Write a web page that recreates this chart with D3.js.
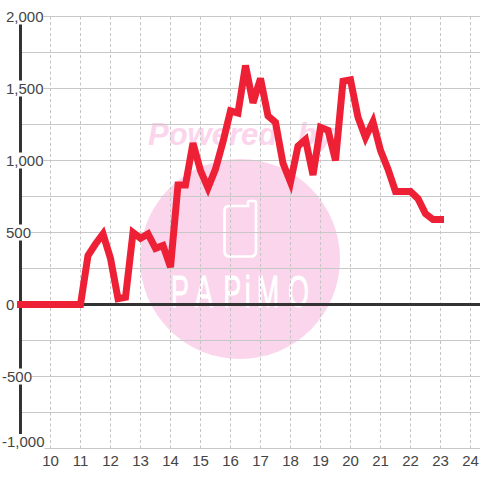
<!DOCTYPE html>
<html>
<head>
<meta charset="utf-8">
<script src="https://cdnjs.cloudflare.com/ajax/libs/d3/7.8.5/d3.min.js"></script>
<style>
  html, body { margin: 0; padding: 0; background: #fff; }
  svg { display: block; }
  text { font-family: "Liberation Sans", Arial, sans-serif; }
  .domain { display: none; }
</style>
</head>
<body>
<div id="chart"></div>
<script>
// values
var hours = [9, 9.25, 9.5, 9.75, 10, 10.25, 10.5, 10.75, 11, 11.25, 11.5, 11.75,
  12, 12.25, 12.5, 12.75, 13, 13.25, 13.5, 13.75, 14, 14.25, 14.5, 14.75,
  15, 15.25, 15.5, 15.75, 16, 16.25, 16.5, 16.75, 17, 17.25, 17.5, 17.75,
  18, 18.25, 18.5, 18.75, 19, 19.25, 19.5, 19.75, 20, 20.25, 20.5, 20.75,
  21, 21.25, 21.5, 21.75, 22, 22.25, 22.5, 22.75, 23];
var values = [0, 0, 0, 0, 0, 0, 0, 0, 0, 340, 420, 490,
  320, 40, 50, 500, 460, 490, 390, 410, 260, 830, 830, 1120,
  930, 810, 940, 1130, 1345, 1330, 1660, 1400, 1570, 1310, 1265, 980,
  850, 1100, 1145, 900, 1230, 1210, 1000, 1550, 1560, 1300, 1160, 1270,
  1070, 940, 785, 785, 785, 735, 630, 590, 590];
var xTicks = [10, 11, 12, 13, 14, 15, 16, 17, 18, 19, 20, 21, 22, 23, 24];
var yTicks = [-1000, -500, 0, 500, 1000, 1500, 2000];
var yGrid = [-1000, -750, -500, -250, 0, 250, 500, 750, 1000, 1250, 1500, 1750, 2000];

var svgWidth = 480;
var svgHeight = 480;

var svg = d3.select("#chart")
  .append("svg")
  .attr("width", svgWidth)
  .attr("height", svgHeight);

var xScale = d3.scaleLinear().domain([10, 24]).range([50.5, 470.5]);
var yScale = d3.scaleLinear().domain([-1000, 2000]).range([448.5, 16.5]);

// watermark
svg.append("circle")
  .attr("cx", 240).attr("cy", 259).attr("r", 100)
  .attr("fill", "#fbd5ec");

svg.append("text")
  .attr("x", 148).attr("y", 144.500)
  .attr("font-size", 31)
  .attr("font-weight", "bold")
  .attr("font-style", "italic")
  .attr("word-spacing", 12)
  .attr("fill", "#fbd5ec")
  .text("Powered by");

svg.append("path")
  .attr("d", "M229 206H248V202.500Q248 201 250 201H254Q256 201 256 203V251Q256 256.500 251 256.500H229.500Q224.500 256.500 224.500 251V211Q224.500 206 229 206Z")
  .attr("fill", "none")
  .attr("stroke", "#fff")
  .attr("stroke-width", 2.7);

svg.append("g")
  .attr("transform", "translate(0,307) scale(0.6,1)")
  .append("text")
  .attr("x", "285 325 372 408 428 480")
  .attr("font-size", 45)
  .attr("fill", "#fff")
  .attr("stroke", "#fff")
  .attr("stroke-width", 0.8)
  .text("PAPiMO");

// grid, vertical dashed and horizontal solid
var xGridAxis = d3.axisBottom(xScale)
  .tickValues(xTicks)
  .tickSize(432)
  .tickFormat("")
  .offset(0);

svg.append("g")
  .attr("transform", "translate(0,16.5)")
  .call(xGridAxis)
  .selectAll("line")
  .attr("stroke", "#c4c4c4")
  .attr("stroke-dasharray", "3,2.5");

var yGridAxis = d3.axisRight(yScale)
  .tickValues(yGrid)
  .tickSize(460)
  .tickFormat("")
  .offset(0);

svg.append("g")
  .attr("transform", "translate(20,0)")
  .call(yGridAxis)
  .selectAll("line")
  .attr("stroke", "#c8c8c8")
  .attr("stroke-width", 1);

// axis lines
svg.append("line")
  .attr("x1", 20.5).attr("x2", 20.5)
  .attr("y1", yScale(2000)).attr("y2", yScale(-1000))
  .attr("stroke", "#333")
  .attr("stroke-width", 3);

svg.append("line")
  .attr("x1", 20).attr("x2", svgWidth)
  .attr("y1", yScale(0)).attr("y2", yScale(0))
  .attr("stroke", "#333")
  .attr("stroke-width", 3);

// y labels with a white box behind them
var yLabels = svg.append("g")
  .selectAll("g")
  .data(yTicks)
  .enter()
  .append("g")
  .attr("transform", d => `translate(${d < 0 ? 2 : 6},${yScale(d) + (d === -1000 ? -6.5 : 0)})`);

var yTexts = yLabels.append("text")
  .attr("dy", "0.35em")
  .attr("font-size", 15)
  .attr("fill", "#444")
  .text(d => d3.format(",")(d).replace("\u2212", "-"));

yLabels.insert("rect", "text")
  .each(function(d) {
    var box = this.parentNode.querySelector("text").getBBox();
    d3.select(this)
      .attr("x", box.x)
      .attr("y", -8)
      .attr("width", box.width)
      .attr("height", 16)
      .attr("fill", d === 0 ? "none" : "#fff");
  });

// x labels
var xAxis = d3.axisBottom(xScale)
  .tickValues(xTicks)
  .tickSize(0)
  .tickPadding(7)
  .tickFormat(d3.format("d"))
  .offset(0);

svg.append("g")
  .attr("transform", "translate(0,448)")
  .call(xAxis)
  .selectAll("text")
  .style("font-size", "15px")
  .style("font-family", "'Liberation Sans'")
  .attr("fill", "#444");

// series line
var line = d3.line()
  .x((d, i) => xScale(hours[i]))
  .y(d => yScale(d));

svg.append("path")
  .datum(values)
  .attr("d", line)
  .attr("fill", "none")
  .attr("stroke", "#ee2036")
  .attr("stroke-width", 7)
  .attr("stroke-linecap", "square")
  .attr("stroke-linejoin", "miter");
</script>
</body>
</html>
